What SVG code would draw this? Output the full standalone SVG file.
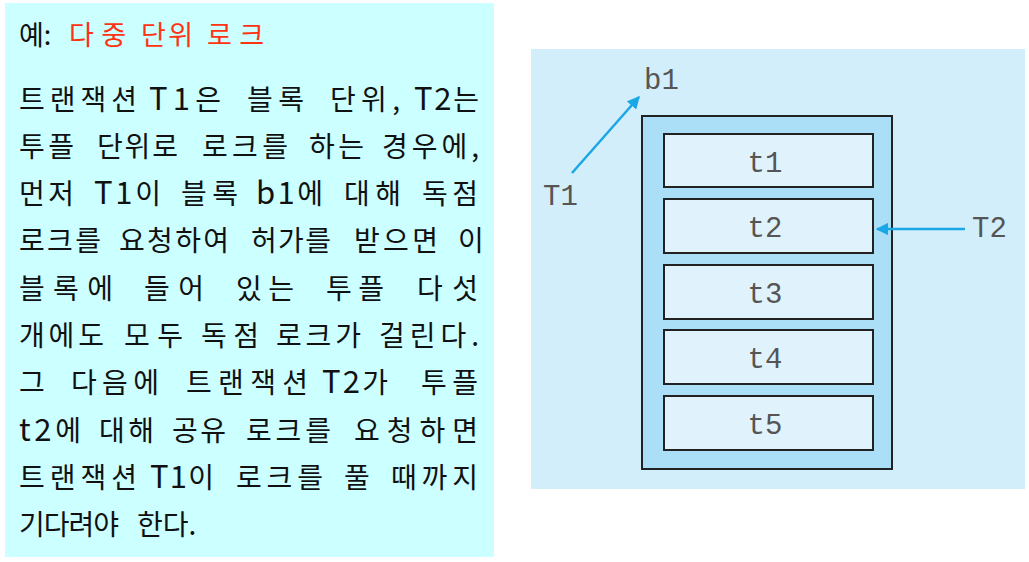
<svg xmlns="http://www.w3.org/2000/svg" width="1029" height="562" viewBox="0 0 1029 562">
<style>
.body text{font-family:"Noto Sans CJK KR","Noto Sans",sans-serif;font-size:28px;fill:#111}
.body .lat{font-size:31px}
.title text{font-family:"Noto Sans CJK KR","Noto Sans",sans-serif;font-size:27px;fill:#111}
.title text.red{fill:#ff3311}
.mono{font-family:"Liberation Mono","DejaVu Sans Mono",monospace;font-size:29px;fill:#555}
.lbl{font-family:"Liberation Mono","DejaVu Sans Mono",monospace;font-size:29px;fill:#555}
.tuple{fill:#e0f3fd;stroke:#222;stroke-width:2}
.conn{stroke:#1aa7e6;stroke-width:2.5;fill:none}
</style>
<defs>
<marker id="ah" viewBox="0 0 10 10" refX="9" refY="5" markerWidth="5" markerHeight="5" orient="auto" markerUnits="strokeWidth">
<path d="M0,0 L10,5 L0,10 z" fill="#1aa7e6"/>
</marker>
</defs>
<rect width="1029" height="562" fill="#ffffff"/>
<g id="text-panel">
<rect x="5" y="3" width="489" height="554" fill="#ccffff"/>
<g class="title">
<text x="19" y="45">예:</text>
<text class="red" x="69" y="45" textLength="57" lengthAdjust="spacing">다중</text>
<text class="red" x="141" y="45" textLength="52" lengthAdjust="spacing">단위</text>
<text class="red" x="207" y="45" textLength="57" lengthAdjust="spacing">로크</text>
</g>
<g class="body">
<text x="19" y="110" textLength="118" lengthAdjust="spacing">트랜잭션</text>
<text x="149" y="110" textLength="72" lengthAdjust="spacing"><tspan class="lat">T1</tspan>은</text>
<text x="247" y="110" textLength="57" lengthAdjust="spacing">블록</text>
<text x="330" y="110" textLength="70" lengthAdjust="spacing">단위,</text>
<text x="414" y="110" textLength="65" lengthAdjust="spacing"><tspan class="lat">T2</tspan>는</text>

<text x="19" y="157" textLength="55" lengthAdjust="spacing">투플</text>
<text x="97" y="157" textLength="81" lengthAdjust="spacing">단위로</text>
<text x="202" y="157" textLength="86" lengthAdjust="spacing">로크를</text>
<text x="309" y="157" textLength="55" lengthAdjust="spacing">하는</text>
<text x="382" y="157" textLength="97" lengthAdjust="spacing">경우에,</text>

<text x="19" y="204" textLength="55" lengthAdjust="spacing">먼저</text>
<text x="94" y="204" textLength="67" lengthAdjust="spacing"><tspan class="lat">T1</tspan>이</text>
<text x="181" y="204" textLength="57" lengthAdjust="spacing">블록</text>
<text x="256" y="204" textLength="67" lengthAdjust="spacing"><tspan class="lat">b1</tspan>에</text>
<text x="344" y="204" textLength="57" lengthAdjust="spacing">대해</text>
<text x="422" y="204" textLength="56" lengthAdjust="spacing">독점</text>

<text x="19" y="251" textLength="82" lengthAdjust="spacing">로크를</text>
<text x="119" y="251" textLength="110" lengthAdjust="spacing">요청하여</text>
<text x="251" y="251" textLength="80" lengthAdjust="spacing">허가를</text>
<text x="354" y="251" textLength="84" lengthAdjust="spacing">받으면</text>
<text x="458" y="251">이</text>

<text x="19" y="299" textLength="94" lengthAdjust="spacing">블록에</text>
<text x="144" y="299" textLength="60" lengthAdjust="spacing">들어</text>
<text x="236" y="299" textLength="58" lengthAdjust="spacing">있는</text>
<text x="326" y="299" textLength="58" lengthAdjust="spacing">투플</text>
<text x="417" y="299" textLength="61" lengthAdjust="spacing">다섯</text>

<text x="19" y="346" textLength="85" lengthAdjust="spacing">개에도</text>
<text x="124" y="346" textLength="59" lengthAdjust="spacing">모두</text>
<text x="201" y="346" textLength="58" lengthAdjust="spacing">독점</text>
<text x="276" y="346" textLength="85" lengthAdjust="spacing">로크가</text>
<text x="379" y="346" textLength="100" lengthAdjust="spacing">걸린다.</text>

<text x="19" y="393">그</text>
<text x="71" y="393" textLength="88" lengthAdjust="spacing">다음에</text>
<text x="186" y="393" textLength="122" lengthAdjust="spacing">트랜잭션</text>
<text x="322" y="393" textLength="66" lengthAdjust="spacing"><tspan class="lat">T2</tspan>가</text>
<text x="421" y="393" textLength="57" lengthAdjust="spacing">투플</text>

<text x="19" y="441" textLength="62" lengthAdjust="spacing"><tspan class="lat">t2</tspan>에</text>
<text x="99" y="441" textLength="55" lengthAdjust="spacing">대해</text>
<text x="172" y="441" textLength="54" lengthAdjust="spacing">공유</text>
<text x="246" y="441" textLength="85" lengthAdjust="spacing">로크를</text>
<text x="354" y="441" textLength="124" lengthAdjust="spacing">요청하면</text>

<text x="19" y="488" textLength="118" lengthAdjust="spacing">트랜잭션</text>
<text x="150" y="488" textLength="64" lengthAdjust="spacing"><tspan class="lat">T1</tspan>이</text>
<text x="236" y="488" textLength="87" lengthAdjust="spacing">로크를</text>
<text x="344" y="488">풀</text>
<text x="391" y="488" textLength="87" lengthAdjust="spacing">때까지</text>

<text x="19" y="535" textLength="100" lengthAdjust="spacing">기다려야</text>
<text x="137" y="535">한다.</text>
</g>
</g>
<g id="diagram-panel">
<rect x="531" y="49" width="494" height="440" fill="#d3eefb"/>
</g>
<g id="block-b1">
<rect x="642" y="116" width="250" height="353" fill="#aadff7" stroke="#222" stroke-width="2"/>
</g>
<g id="tuple-t1"><rect class="tuple" x="664" y="134" width="209" height="53"/><text class="mono" x="765" y="172" text-anchor="middle">t1</text></g>
<g id="tuple-t2"><rect class="tuple" x="664" y="199" width="209" height="54"/><text class="mono" x="765" y="237" text-anchor="middle">t2</text></g>
<g id="tuple-t3"><rect class="tuple" x="664" y="265" width="209" height="54"/><text class="mono" x="765" y="303" text-anchor="middle">t3</text></g>
<g id="tuple-t4"><rect class="tuple" x="664" y="330" width="209" height="54"/><text class="mono" x="765" y="368" text-anchor="middle">t4</text></g>
<g id="tuple-t5"><rect class="tuple" x="664" y="396" width="209" height="54"/><text class="mono" x="765" y="434" text-anchor="middle">t5</text></g>
<g id="label-b1"><text class="lbl" x="644" y="89">b1</text></g>
<g id="label-T1"><text class="lbl" x="543" y="205">T1</text></g>
<g id="label-T2"><text class="lbl" x="972" y="237">T2</text></g>
<g id="connectors">
<line class="conn" x1="572" y1="173" x2="639" y2="97" marker-end="url(#ah)"/>
<line class="conn" x1="965" y1="229" x2="877" y2="229" marker-end="url(#ah)"/>
</g>
</svg>
